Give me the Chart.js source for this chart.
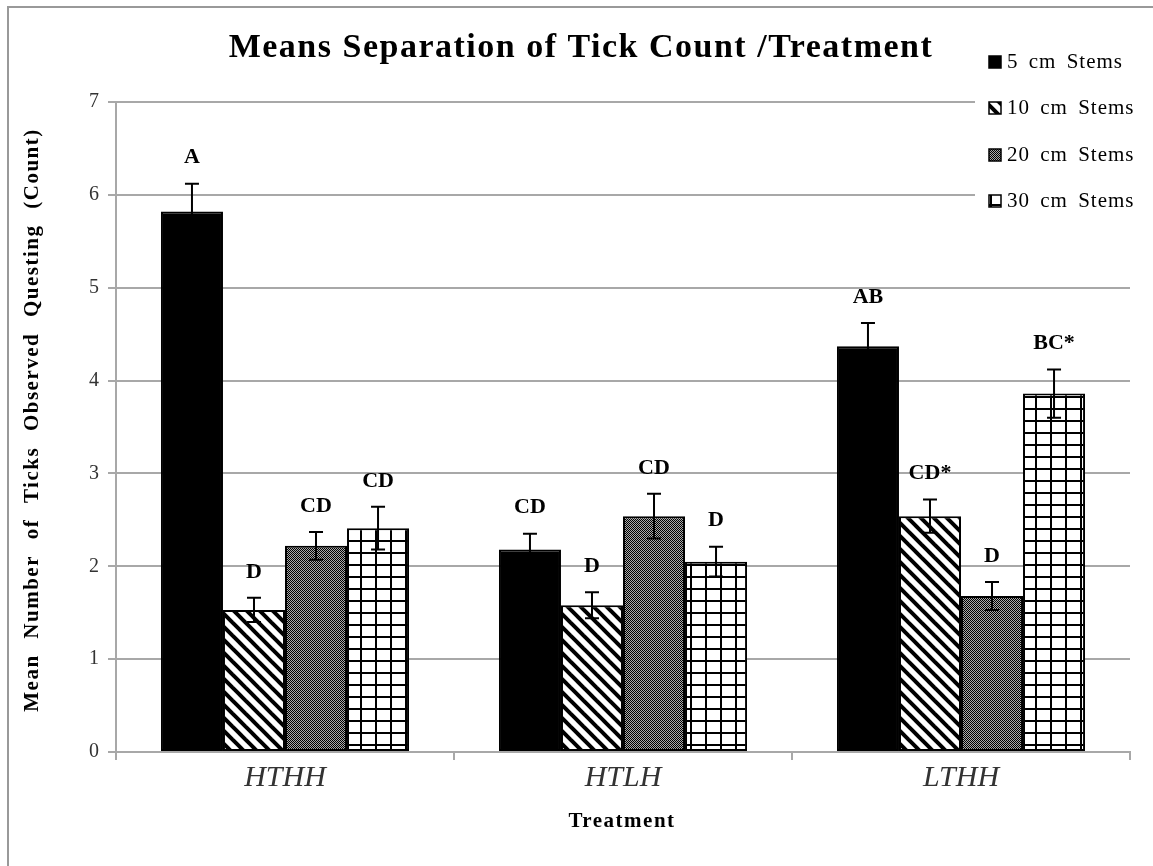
<!DOCTYPE html>
<html>
<head>
<meta charset="utf-8">
<script src="https://cdn.jsdelivr.net/npm/chart.js@4/dist/chart.umd.min.js"></script>
<style>
  body { margin: 0; background: #fff; }
  canvas { display: block; }
</style>
</head>
<body>
<canvas id="myChart" width="1153" height="866"></canvas>
<script>
  // data

  var categories = ['HTHH', 'HTLH', 'LTHH'];
  var seriesNames = ['5 cm Stems', '10 cm Stems', '20 cm Stems', '30 cm Stems'];

  var stems5  = [5.82, 2.18, 4.37];
  var stems10 = [1.53, 1.58, 2.54];
  var stems20 = [2.22, 2.54, 1.68];
  var stems30 = [2.41, 2.05, 3.86];

  var err5  = [0.30, 0.17, 0.25];
  var err10 = [0.13, 0.14, 0.18];
  var err20 = [0.15, 0.24, 0.15];
  var err30 = [0.23, 0.16, 0.26];

  var letters5  = ['A', 'CD', 'AB'];
  var letters10 = ['D', 'D', 'CD*'];
  var letters20 = ['CD', 'CD', 'D'];
  var letters30 = ['CD', 'D', 'BC*'];

  var yTicks = [0, 1, 2, 3, 4, 5, 6, 7];

  var serif = "'Liberation Serif', 'Times New Roman', serif";

  // fill patterns

  function makeTile(w, h, draw) {
    var c = document.createElement('canvas');
    c.width = w; c.height = h;
    var g = c.getContext('2d');
    g.fillStyle = '#fff';
    g.fillRect(0, 0, w, h);
    draw(g, w, h);
    return document.getElementById('myChart').getContext('2d').createPattern(c, 'repeat');
  }

  var diagPattern = makeTile(13, 13, function (g, w) {
    g.strokeStyle = '#000';
    g.lineWidth = 4;
    for (var k = -1; k <= 1; k++) {
      g.beginPath();
      g.moveTo(k * w - 2, -2);
      g.lineTo(k * w + w + 2, w + 2);
      g.stroke();
    }
  });

  var checkPattern = makeTile(2, 2, function (g) {
    g.fillStyle = '#aaa';
    g.fillRect(0, 0, 2, 2);
    g.fillStyle = '#000';
    g.fillRect(0, 0, 1, 1);
    g.fillRect(1, 1, 1, 1);
  });

  var gridPattern = makeTile(15, 12, function (g, w, h) {
    g.fillStyle = '#000';
    g.fillRect(0, 0, 2, h);
    g.fillRect(0, 0, w, 2);
  });

  var fills = ['#000', diagPattern, checkPattern, gridPattern];
  var values = [stems5, stems10, stems20, stems30];
  var errors = [err5, err10, err20, err30];
  var letters = [letters5, letters10, letters20, letters30];

  var datasets = [];
  seriesNames.forEach(function (name, i) {
    datasets.push({
      label: name,
      data: values[i],
      backgroundColor: fills[i],
      borderColor: '#000',
      borderWidth: 2,
      borderSkipped: false,
      categoryPercentage: 0.734,
      barPercentage: 1.0
    });
  });

  // error bars, letters, title, legend, frame

  var extras = {
    id: 'extras',
    afterDatasetsDraw: function (chart) {
      var ctx = chart.ctx;
      var y = chart.scales.y;
      ctx.save();
      chart.data.datasets.forEach(function (ds, i) {
        var meta = chart.getDatasetMeta(i);
        meta.data.forEach(function (bar, j) {
          var v = ds.data[j], e = errors[i][j];
          var top = y.getPixelForValue(v + e);
          var bot = y.getPixelForValue(v - e);
          ctx.strokeStyle = '#000';
          ctx.lineWidth = 2;
          ctx.beginPath();
          ctx.moveTo(bar.x, top); ctx.lineTo(bar.x, bot);
          ctx.moveTo(bar.x - 7, top); ctx.lineTo(bar.x + 7, top);
          ctx.moveTo(bar.x - 7, bot); ctx.lineTo(bar.x + 7, bot);
          ctx.stroke();
          ctx.fillStyle = '#000';
          ctx.font = 'bold 22px ' + serif;
          ctx.textAlign = 'center';
          ctx.textBaseline = 'middle';
          ctx.fillText(letters[i][j], bar.x, top - 26);
        });
      });
      ctx.restore();
    },
    afterDraw: function (chart) {
      var ctx = chart.ctx;
      ctx.save();

      // legend box over the grid
      ctx.fillStyle = '#fff';
      ctx.fillRect(975, 36, 178, 236);
      var rows = [62, 108, 155, 201];
      chart.data.datasets.forEach(function (ds, i) {
        ctx.fillStyle = ds.backgroundColor;
        ctx.fillRect(989, rows[i] - 6, 12, 12);
        ctx.strokeStyle = '#000';
        ctx.lineWidth = 1.5;
        ctx.strokeRect(989, rows[i] - 6, 12, 12);
        ctx.fillStyle = '#000';
        ctx.font = '21px ' + serif;
        ctx.textAlign = 'left';
        ctx.textBaseline = 'middle';
        ctx.letterSpacing = '1px';
        ctx.wordSpacing = '4px';
        ctx.fillText(ds.label, 1007, rows[i]);
        ctx.letterSpacing = '0px';
        ctx.wordSpacing = '0px';
      });

      // title
      ctx.fillStyle = '#000';
      ctx.font = 'bold 34px ' + serif;
      ctx.textAlign = 'center';
      ctx.textBaseline = 'middle';
      ctx.letterSpacing = '1.5px';
      ctx.fillText('Means Separation of Tick Count /Treatment', 581, 48);

      // axis titles
      ctx.font = 'bold 21px ' + serif;
      ctx.letterSpacing = '1.5px';
      ctx.fillText('Treatment', 622, 822);

      ctx.save();
      ctx.translate(33, 420);
      ctx.rotate(-Math.PI / 2);
      ctx.font = 'bold 21px ' + serif;
      ctx.letterSpacing = '1.5px';
      ctx.wordSpacing = '9px';
      ctx.fillText('Mean Number of Ticks Observed Questing (Count)', 0, 0);
      ctx.restore();
      ctx.letterSpacing = '0px';

      // outer frame
      ctx.strokeStyle = '#999';
      ctx.lineWidth = 2;
      ctx.beginPath();
      ctx.moveTo(8, 866);
      ctx.lineTo(8, 7);
      ctx.lineTo(1153, 7);
      ctx.stroke();

      ctx.restore();
    }
  };

  var config = {
    type: 'bar',
    data: { labels: categories, datasets: datasets },
    options: {
      responsive: false,
      animation: false,
      layout: { padding: { top: 102, right: 23, left: 0, bottom: 0 } },
      plugins: {
        legend: { display: false },
        title: { display: false },
        tooltip: { enabled: false }
      },
      scales: {
        x: {
          offset: true,
          grid: { display: true, drawOnChartArea: false, color: '#a8a8a8', lineWidth: 2, tickLength: 8 },
          border: { color: '#a8a8a8', width: 2 },
          ticks: { color: '#333', padding: 0, font: { family: serif, size: 30, style: 'italic' } },
          afterFit: function (s) { s.height = 114; }
        },
        y: {
          min: 0,
          max: 7,
          afterBuildTicks: function (s) { s.ticks = yTicks.map(function (v) { return { value: v }; }); },
          grid: { color: '#a8a8a8', lineWidth: 2, tickLength: 8 },
          border: { color: '#a8a8a8', width: 2 },
          ticks: { color: '#333', padding: 9, font: { family: serif, size: 20 } },
          afterFit: function (s) { s.width = 116; }
        }
      }
    },
    plugins: [extras]
  };

  var myChart = new Chart(document.getElementById('myChart'), config);
</script>
</body>
</html>
